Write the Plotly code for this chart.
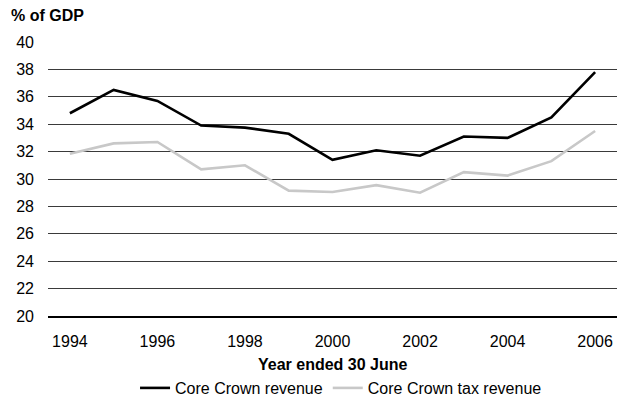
import plotly.graph_objects as go

# Fiscal years (year ended 30 June)
years = [1994, 1995, 1996, 1997, 1998, 1999, 2000, 2001, 2002, 2003, 2004, 2005, 2006]

# Revenue as a percentage of GDP
core_crown_revenue = [34.8, 36.5, 35.7, 33.9, 33.75, 33.3, 31.4, 32.1, 31.7, 33.1, 33.0, 34.5, 37.8]
core_crown_tax_revenue = [31.85, 32.6, 32.7, 30.7, 31.0, 29.15, 29.05, 29.55, 29.0, 30.5, 30.25, 31.3, 33.5]

FONT = "Liberation Sans, Arial, sans-serif"
FS = 16

fig = go.Figure()
fig.add_trace(go.Scatter(
    x=years, y=core_crown_revenue, mode="lines", name="Core Crown revenue",
    line=dict(color="#000000", width=2.6),
))
fig.add_trace(go.Scatter(
    x=years, y=core_crown_tax_revenue, mode="lines", name="Core Crown tax revenue",
    line=dict(color="#c8c8c8", width=2.6),
))

fig.update_layout(
    width=622, height=401,
    margin=dict(l=48, r=5, t=42, b=85, autoexpand=False),
    paper_bgcolor="white", plot_bgcolor="white",
    font=dict(family=FONT, size=FS, color="#000000"),
    showlegend=True,
    legend=dict(
        orientation="h", x=0.515, xanchor="center",
        yref="container", y=13 / 401, yanchor="middle",
        font=dict(size=FS), itemwidth=30, tracegroupgap=0,
        bgcolor="rgba(0,0,0,0)",
    ),
    xaxis=dict(
        range=[1993.5, 2006.5], tickmode="linear", tick0=1994, dtick=2,
        showgrid=False, zeroline=False, automargin=False,
        showline=True, linecolor="#000000", linewidth=2,
        ticks="", ticklabelstandoff=10,
        tickfont=dict(size=FS),
        fixedrange=True,
    ),
    yaxis=dict(
        range=[20, 40], tickmode="linear", tick0=20, dtick=2,
        showgrid=True, gridcolor="#3a3a3a", gridwidth=1,
        zeroline=False, showline=False, ticks="", ticklabelstandoff=13,
        automargin=False,
        tickfont=dict(size=FS),
        fixedrange=True,
    ),
    annotations=[
        dict(
            text="<b>% of GDP</b>", xref="paper", yref="paper", x=0, y=1,
            xanchor="left", yanchor="middle", xshift=-39, yshift=27,
            showarrow=False, font=dict(size=FS),
        ),
        dict(
            text="<b>Year ended 30 June</b>", xref="paper", yref="paper", x=0.5, y=0,
            xanchor="center", yanchor="middle", yshift=-48,
            showarrow=False, font=dict(size=FS),
        ),
    ],
)

fig.write_html("out.html")
